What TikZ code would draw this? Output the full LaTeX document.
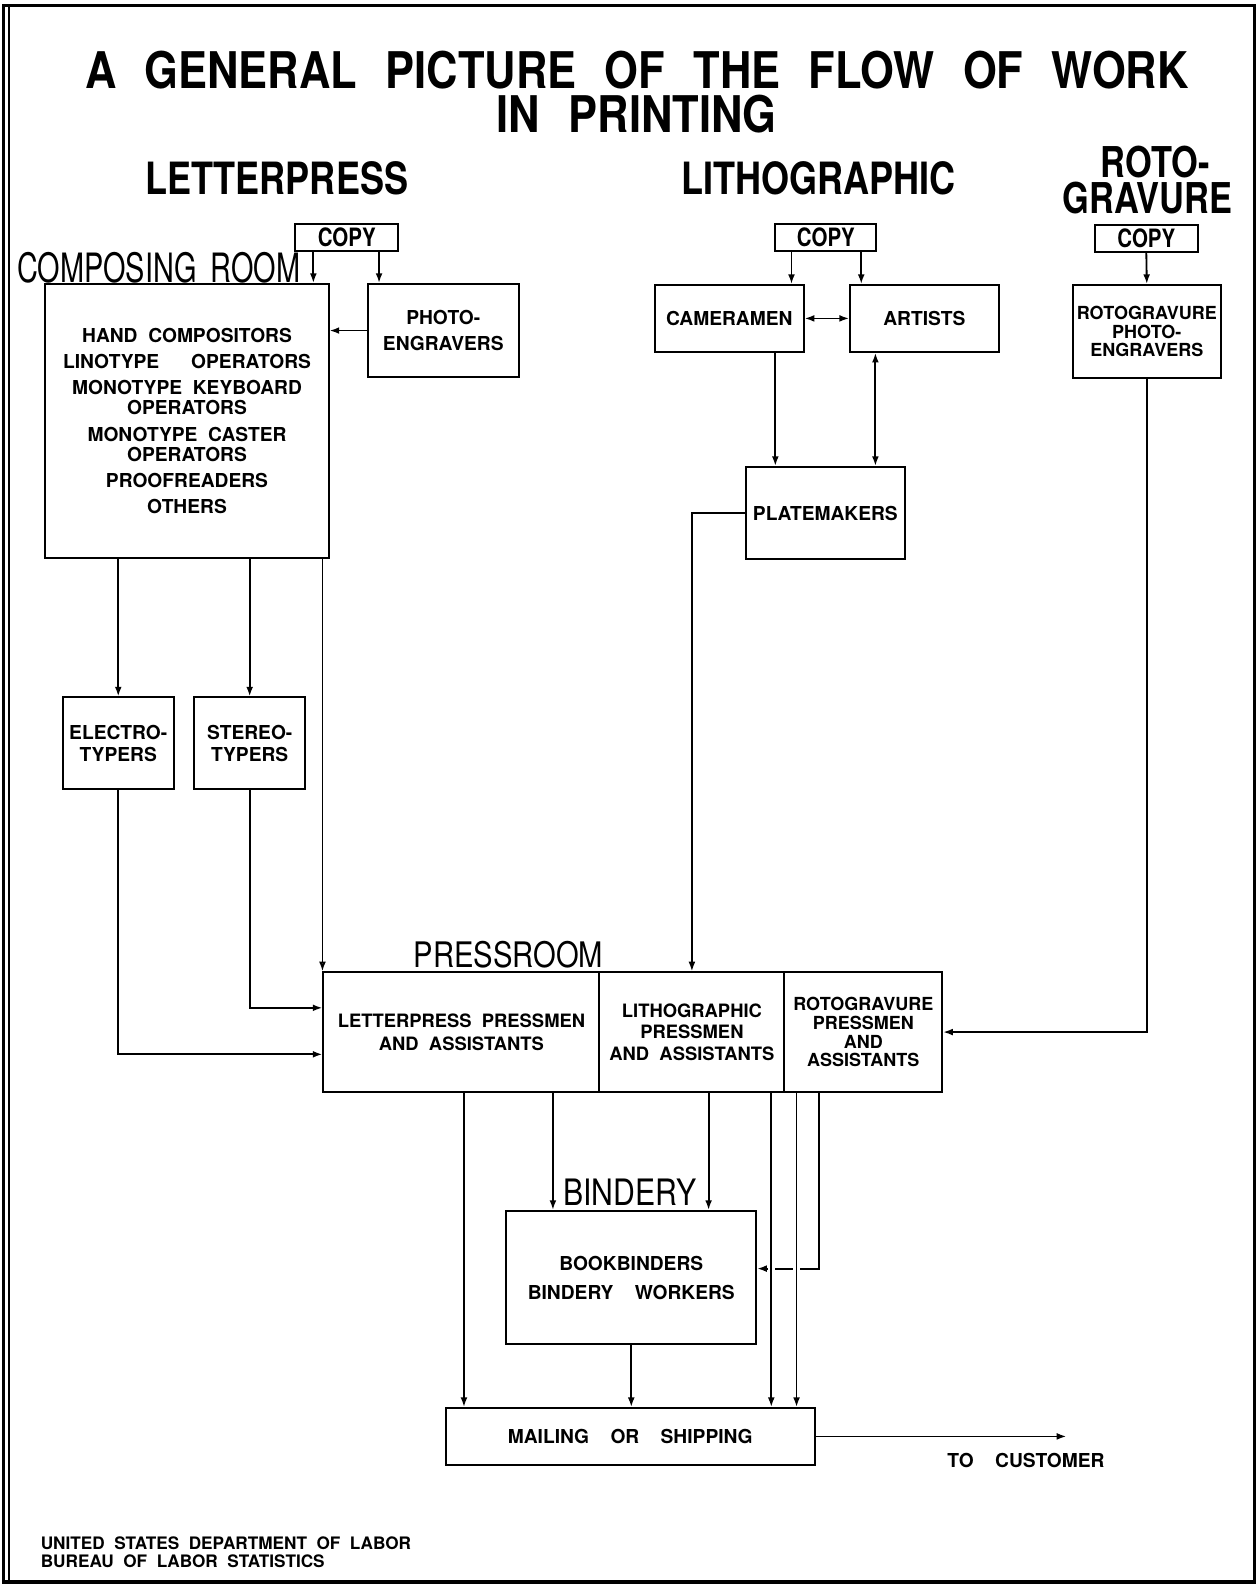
\documentclass[tikz,border=0pt]{standalone}
\usepackage{fontspec}
\usepackage{graphicx}
\setmainfont{TeX Gyre Heros}
\newfontfamily\headfont[FakeStretch=0.83,WordSpace=1.8]{TeX Gyre Heros}
\newfontfamily\boldhead[FakeStretch=0.81,WordSpace=1.8]{TeX Gyre Heros}
\newfontfamily\titlefont[FakeStretch=0.86,WordSpace=2.35]{TeX Gyre Heros}
\newfontfamily\boxfont[WordSpace=2]{TeX Gyre Heros}
\usetikzlibrary{arrows.meta,calc}
\tikzset{
  box/.style={draw, line width=1pt, inner sep=0pt, align=center,
              font={\boxfont\bfseries\fontsize{9.5}{10}\selectfont}},
  lh/.style={font={\boxfont\bfseries\fontsize{9.5}{#1}\selectfont}},
  lhs/.style={font={\boxfont\bfseries\fontsize{8.9}{#1}\selectfont}},
  lhp/.style={font={\boxfont\bfseries\fontsize{9.1}{#1}\selectfont}},
  copybox/.style={draw, line width=1pt, inner sep=0pt, minimum width=51pt,
              minimum height=13pt, font={\boldhead\bfseries\fontsize{12.5}{13}\selectfont}},
  head/.style={inner sep=0pt, align=center, font={\headfont\fontsize{#1}{#1}\selectfont}},
  bhead/.style={inner sep=0pt, align=center, font={\boldhead\bfseries\fontsize{#1}{#1}\selectfont}},
  ttl/.style={inner sep=0pt, align=center, font={\titlefont\bfseries\fontsize{25}{21.6}\selectfont}},
  plain/.style={inner sep=0pt, align=left, font={\boxfont\bfseries\fontsize{#1}{#1}\selectfont}},
  arr/.style={-{Latex[length=4.8pt,width=3.4pt]}, line width=0.9pt},
  darr/.style={{Latex[length=4.8pt,width=3.4pt]}-{Latex[length=4.8pt,width=3.4pt]}, line width=0.9pt},
  oarr/.style={-{Latex[open,length=4.8pt,width=3.4pt]}, line width=0.9pt},
  hop/.style={draw=white, line width=3.2pt}
}
\begin{document}
\begin{tikzpicture}[x=0.5pt,y=-0.5pt]
\useasboundingbox (0,0) rectangle (1245,1568);
% frame
\draw[line width=1.5pt] (3,5) rectangle (1241,1565);
\draw[line width=0.6pt] (9,5) -- (9,1565);

% titles
\node[ttl] (title) at (630,91) {A GENERAL PICTURE OF THE FLOW OF WORK\\IN PRINTING};
\node[bhead=22] (hlp) at (274,176) {LETTERPRESS};
\node[bhead=22] (hli) at (810,176) {LITHOGRAPHIC};
\node[inner sep=0pt, align=center, font={\boldhead\bfseries\fontsize{21}{17.5}\selectfont}] (hro) at (1135,178) {\hspace*{8pt}ROTO-\\GRAVURE};
\node[head=20] (hcr) at (157,265) {\scalebox{0.86}[1]{COMPOSING ROOM}};
\node[head=17.4] (hpr) at (503,944) {PRESSROOM};
\node[head=18] (hbi) at (623,1179) {BINDERY};

% letterpress
\node[copybox] (copyL) at (343,235) {COPY};
\node[box, minimum width=140pt, minimum height=135.5pt, lh=10] (comp) at (185,416.5)
  {HAND\ COMPOSITORS\\[3pt]
   LINOTYPE\ \ \ OPERATORS\\[3pt]
   MONOTYPE KEYBOARD\\
   OPERATORS\\[3pt]
   MONOTYPE\ CASTER\\
   OPERATORS\\[3pt]
   PROOFREADERS\\[3pt]
   OTHERS};
\node[box, minimum width=74.5pt, minimum height=46pt, lh=13] (photo) at (438.5,327) {PHOTO-\\ENGRAVERS};
\node[box, minimum width=55pt, minimum height=45.5pt, lh=10.5] (electro) at (117,735.5) {ELECTRO-\\TYPERS};
\node[box, minimum width=55pt, minimum height=45.5pt, lh=10.5] (stereo) at (247,735.5) {STEREO-\\TYPERS};

% lithographic
\node[copybox, minimum width=50pt] (copyM) at (817,235) {COPY};
\node[box, minimum width=73.5pt, minimum height=33pt] (camera) at (721.5,315) {CAMERAMEN};
\node[box, minimum width=73.5pt, minimum height=33pt] (artists) at (914.5,315) {ARTISTS};
\node[box, minimum width=78.5pt, minimum height=45.5pt] (plate) at (816.5,507.5) {PLATEMAKERS};

% rotogravure
\node[copybox] (copyR) at (1134,236) {COPY};
\node[box, minimum width=73.5pt, minimum height=46pt, lhs=9.3] (rphoto) at (1134.5,328) {ROTOGRAVURE\\PHOTO-\\ENGRAVERS};

% pressroom
\node[box, minimum width=136.5pt, minimum height=59pt, lhp=11.5] (lp) at (456.5,1021) {LETTERPRESS\ PRESSMEN\\AND\ ASSISTANTS};
\node[box, minimum width=91.5pt, minimum height=59pt, lhp=10.5] (lith) at (684.5,1021) {LITHOGRAPHIC\\PRESSMEN\\AND\ ASSISTANTS};
\node[box, minimum width=78pt, minimum height=59pt, lhs=9.3] (roto) at (854,1021) {ROTOGRAVURE\\PRESSMEN\\AND\\ASSISTANTS};

% bindery and mailing
\node[box, minimum width=123.5pt, minimum height=66pt, lh=14.5] (bind) at (624.5,1264) {BOOKBINDERS\\BINDERY\ \ WORKERS};
\node[box, minimum width=182.5pt, minimum height=28pt] (mail) at (623.5,1421) {MAILING\ \ OR\ \ SHIPPING};
\node[plain=9.5] (cust) at (1015,1445) {TO\ \ CUSTOMER};
\coordinate (custend) at (1055,1421);

% footer
\node[plain=8.5, anchor=west] (f1) at (40,1527) {UNITED STATES DEPARTMENT OF LABOR};
\node[plain=8.5, anchor=west] (f2) at (40,1544) {BUREAU OF LABOR STATISTICS};

% helper coordinates
\coordinate (xa) at (310,0);
\coordinate (xb) at (375,0);
\coordinate (xc) at (783,0);
\coordinate (xd) at (852,0);
\coordinate (xe) at (767,0);
\coordinate (xf) at (866,0);
\coordinate (ye) at (0,1043);
\coordinate (ys) at (0,997);
\coordinate (x1) at (459,0);
\coordinate (x2) at (547,0);
\coordinate (x3) at (701,0);
\coordinate (x4) at (763,0);
\coordinate (x5) at (788,0);
\coordinate (x6) at (810,0);
\coordinate (yb) at (0,1255);

% letterpress connectors
\draw[arr] (copyL.south -| xa) -- (comp.north -| xa);
\draw[arr] (copyL.south -| xb) -- (photo.north -| xb);
\draw[arr] (photo.west) -- (photo.west -| comp.east);
\draw[arr] (comp.south -| electro) -- (electro.north);
\draw[arr] (comp.south -| stereo) -- (stereo.north);
\draw[oarr] (comp.south -| lp.north west) -- (lp.north west);
\draw[arr] (electro.south) |- (ye -| lp.west);
\draw[arr] (stereo.south) |- (ys -| lp.west);

% lithographic connectors
\draw[arr] (copyM.south -| xc) -- (camera.north -| xc);
\draw[arr] (copyM.south -| xd) -- (artists.north -| xd);
\draw[darr] (camera.east) -- (artists.west);
\draw[arr] (camera.south -| xe) -- (plate.north -| xe);
\draw[darr] (artists.south -| xf) -- (plate.north -| xf);
\draw[arr] (plate.west) -| (lith.north);

% rotogravure connectors
\draw[arr] (copyR.south) -- (rphoto.north);
\draw[arr] (rphoto.south) |- (roto.east);

% pressroom to bindery / mailing
\draw[arr] (roto.south -| x6) |- (yb -| bind.east);
\draw[hop] ($(yb -| x4)+(0,-5)$) -- ($(yb -| x4)+(0,5)$);
\draw[hop] ($(yb -| x5)+(0,-5)$) -- ($(yb -| x5)+(0,5)$);
\draw[arr] (lp.south -| x1) -- (mail.north -| x1);
\draw[arr] (lp.south -| x2) -- (bind.north -| x2);
\draw[arr] (lith.south -| x3) -- (bind.north -| x3);
\draw[arr] (lith.south -| x4) -- (mail.north -| x4);
\draw[arr] (roto.south -| x5) -- (mail.north -| x5);
\draw[arr] (bind.south) -- (mail.north -| bind.south);
\draw[arr] (mail.east) -- (custend);
\end{tikzpicture}
\end{document}
